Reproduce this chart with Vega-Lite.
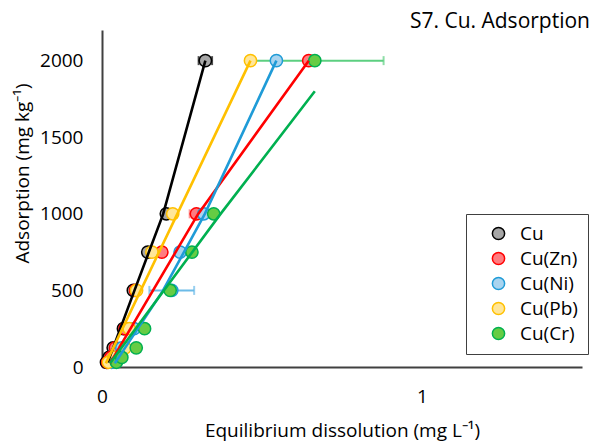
{
  "$schema": "https://vega.github.io/schema/vega-lite/v6.json",
  "width": 480,
  "height": 337,
  "autosize": "none",
  "padding": {"left": 102, "top": 30, "right": 22, "bottom": 79},
  "background": "white",
  "config": {"view": {"stroke": null}, "font": "Open Sans"},
  "title": {"text": "S7. Cu. Adsorption", "anchor": "end", "frame": "group", "fontSize": 21, "fontWeight": "normal", "font": "Open Sans", "color": "black", "offset": -2, "dx": 8},
  "datasets": {
    "pts": [
      {"series": "Cu", "x": 0.014, "y": 31}, {"series": "Cu", "x": 0.022, "y": 62.5}, {"series": "Cu", "x": 0.035, "y": 125}, {"series": "Cu", "x": 0.067, "y": 250}, {"series": "Cu", "x": 0.098, "y": 500}, {"series": "Cu", "x": 0.143, "y": 750}, {"series": "Cu", "x": 0.201, "y": 1000}, {"series": "Cu", "x": 0.323, "y": 2000},
      {"series": "Cu(Zn)", "x": 0.018, "y": 31}, {"series": "Cu(Zn)", "x": 0.028, "y": 62.5}, {"series": "Cu(Zn)", "x": 0.042, "y": 125}, {"series": "Cu(Zn)", "x": 0.072, "y": 250}, {"series": "Cu(Zn)", "x": 0.105, "y": 500}, {"series": "Cu(Zn)", "x": 0.187, "y": 750}, {"series": "Cu(Zn)", "x": 0.295, "y": 1000}, {"series": "Cu(Zn)", "x": 0.646, "y": 2000},
      {"series": "Cu(Ni)", "x": 0.030, "y": 31}, {"series": "Cu(Ni)", "x": 0.045, "y": 62.5}, {"series": "Cu(Ni)", "x": 0.062, "y": 125}, {"series": "Cu(Ni)", "x": 0.100, "y": 250}, {"series": "Cu(Ni)", "x": 0.218, "y": 500}, {"series": "Cu(Ni)", "x": 0.244, "y": 750}, {"series": "Cu(Ni)", "x": 0.318, "y": 1000}, {"series": "Cu(Ni)", "x": 0.545, "y": 2000},
      {"series": "Cu(Pb)", "x": 0.020, "y": 31}, {"series": "Cu(Pb)", "x": 0.038, "y": 62.5}, {"series": "Cu(Pb)", "x": 0.072, "y": 125}, {"series": "Cu(Pb)", "x": 0.085, "y": 250}, {"series": "Cu(Pb)", "x": 0.108, "y": 500}, {"series": "Cu(Pb)", "x": 0.156, "y": 750}, {"series": "Cu(Pb)", "x": 0.221, "y": 1000}, {"series": "Cu(Pb)", "x": 0.464, "y": 2000},
      {"series": "Cu(Cr)", "x": 0.045, "y": 31}, {"series": "Cu(Cr)", "x": 0.062, "y": 62.5}, {"series": "Cu(Cr)", "x": 0.107, "y": 125}, {"series": "Cu(Cr)", "x": 0.133, "y": 250}, {"series": "Cu(Cr)", "x": 0.213, "y": 500}, {"series": "Cu(Cr)", "x": 0.281, "y": 750}, {"series": "Cu(Cr)", "x": 0.349, "y": 1000}, {"series": "Cu(Cr)", "x": 0.665, "y": 2000}
    ],
    "fits": [
      {"series": "Cu", "x": 0.018, "y": 30}, {"series": "Cu", "x": 0.101, "y": 497}, {"series": "Cu", "x": 0.191, "y": 998}, {"series": "Cu", "x": 0.323, "y": 2000},
      {"series": "Cu(Zn)", "x": 0.025, "y": 24}, {"series": "Cu(Zn)", "x": 0.300, "y": 998}, {"series": "Cu(Zn)", "x": 0.646, "y": 2000},
      {"series": "Cu(Ni)", "x": 0.040, "y": 24}, {"series": "Cu(Ni)", "x": 0.190, "y": 497}, {"series": "Cu(Ni)", "x": 0.321, "y": 998}, {"series": "Cu(Ni)", "x": 0.545, "y": 2000},
      {"series": "Cu(Pb)", "x": 0.012, "y": 24}, {"series": "Cu(Pb)", "x": 0.235, "y": 998}, {"series": "Cu(Pb)", "x": 0.464, "y": 2000},
      {"series": "Cu(Cr)", "x": 0.025, "y": 24}, {"series": "Cu(Cr)", "x": 0.370, "y": 998}, {"series": "Cu(Cr)", "x": 0.665, "y": 1800}
    ],
    "errs": [
      {"series": "Cu", "bar": "a", "x": 0.302, "y": 2000}, {"series": "Cu", "bar": "a", "x": 0.344, "y": 2000},
      {"series": "Cu(Zn)", "bar": "b", "x": 0.274, "y": 1000}, {"series": "Cu(Zn)", "bar": "b", "x": 0.316, "y": 1000},
      {"series": "Cu(Ni)", "bar": "c", "x": 0.148, "y": 500}, {"series": "Cu(Ni)", "bar": "c", "x": 0.288, "y": 500},
      {"series": "Cu(Cr)", "bar": "d", "x": 0.450, "y": 2000}, {"series": "Cu(Cr)", "bar": "d", "x": 0.880, "y": 2000}
    ]
  },
  "encoding": {
    "x": {"field": "x", "type": "quantitative", "scale": {"domain": [0, 1.5], "nice": false, "zero": false},
      "axis": {"title": "Equilibrium dissolution (mg L⁻¹)", "values": [0, 1], "format": "d", "ticks": false, "grid": false, "labelFlush": false, "domainColor": "#404040", "domainWidth": 2, "labelFont": "Open Sans", "labelFontSize": 19, "labelColor": "black", "labelPadding": 20, "titleFont": "Open Sans", "titleFontSize": 19, "titleFontWeight": "normal", "titleColor": "black", "titlePadding": 15}},
    "y": {"field": "y", "type": "quantitative", "scale": {"domain": [0, 2200], "nice": false},
      "axis": {"title": "Adsorption (mg kg⁻¹)", "values": [0, 500, 1000, 1500, 2000], "format": "d", "ticks": false, "grid": false, "domainColor": "#404040", "domainWidth": 2, "labelFont": "Open Sans", "labelFontSize": 19, "labelColor": "black", "labelPadding": 19, "titleFont": "Open Sans", "titleFontSize": 19, "titleFontWeight": "normal", "titleColor": "black", "titleX": -70, "titleY": 143, "titleBaseline": "bottom", "titleAlign": "center", "titleAngle": 270}}
  },
  "layer": [
    {
      "data": {"name": "errs"},
      "mark": {"type": "line", "strokeWidth": 2},
      "encoding": {
        "detail": {"field": "bar"},
        "color": {"field": "series", "type": "nominal", "legend": null, "scale": {"domain": ["Cu", "Cu(Zn)", "Cu(Ni)", "Cu(Pb)", "Cu(Cr)"], "range": ["#000000", "#ff6666", "#6cbbe8", "#ffd966", "#5ccf80"]}}
      }
    },
    {
      "data": {"name": "errs"},
      "mark": {"type": "tick", "orient": "vertical", "size": 9, "thickness": 2},
      "encoding": {
        "color": {"field": "series", "type": "nominal", "legend": null, "scale": {"domain": ["Cu", "Cu(Zn)", "Cu(Ni)", "Cu(Pb)", "Cu(Cr)"], "range": ["#000000", "#ff6666", "#6cbbe8", "#ffd966", "#5ccf80"]}}
      }
    },
    {
      "data": {"name": "pts"},
      "mark": {"type": "point", "shape": "circle", "size": 150, "strokeWidth": 1.5, "opacity": 1, "fillOpacity": 1},
      "encoding": {
        "fill": {"field": "series", "type": "nominal", "scale": {"domain": ["Cu", "Cu(Zn)", "Cu(Ni)", "Cu(Pb)", "Cu(Cr)"], "range": ["#a6a6a6", "#ff7c80", "#a9d4ef", "#ffe699", "#66cc44"]},
          "legend": {"title": null, "orient": "none", "legendX": 364, "legendY": 184, "symbolType": "circle", "symbolSize": 150, "symbolStrokeWidth": 1.5, "labelFont": "Open Sans", "labelFontSize": 19, "labelColor": "black", "strokeColor": "#404040", "fillColor": "white", "padding": 10, "rowPadding": 5, "symbolOffset": 13, "labelOffset": 12}},
        "stroke": {"field": "series", "type": "nominal", "scale": {"domain": ["Cu", "Cu(Zn)", "Cu(Ni)", "Cu(Pb)", "Cu(Cr)"], "range": ["#000000", "#ff0000", "#1f9bd7", "#ffc000", "#00b050"]},
          "legend": {"title": null, "orient": "none", "legendX": 364, "legendY": 184, "symbolType": "circle", "symbolSize": 150, "symbolStrokeWidth": 1.5, "labelFont": "Open Sans", "labelFontSize": 19, "labelColor": "black", "strokeColor": "#404040", "fillColor": "white", "padding": 10, "rowPadding": 5, "symbolOffset": 13, "labelOffset": 12}}
      }
    },
    {
      "data": {"name": "fits"},
      "mark": {"type": "line", "strokeWidth": 2.6},
      "encoding": {
        "color": {"field": "series", "type": "nominal", "legend": null, "scale": {"domain": ["Cu", "Cu(Zn)", "Cu(Ni)", "Cu(Pb)", "Cu(Cr)"], "range": ["#000000", "#ff0000", "#1f9bd7", "#ffc000", "#00b050"]}}
      }
    }
  ],
  "resolve": {"scale": {"color": "independent"}}
}
